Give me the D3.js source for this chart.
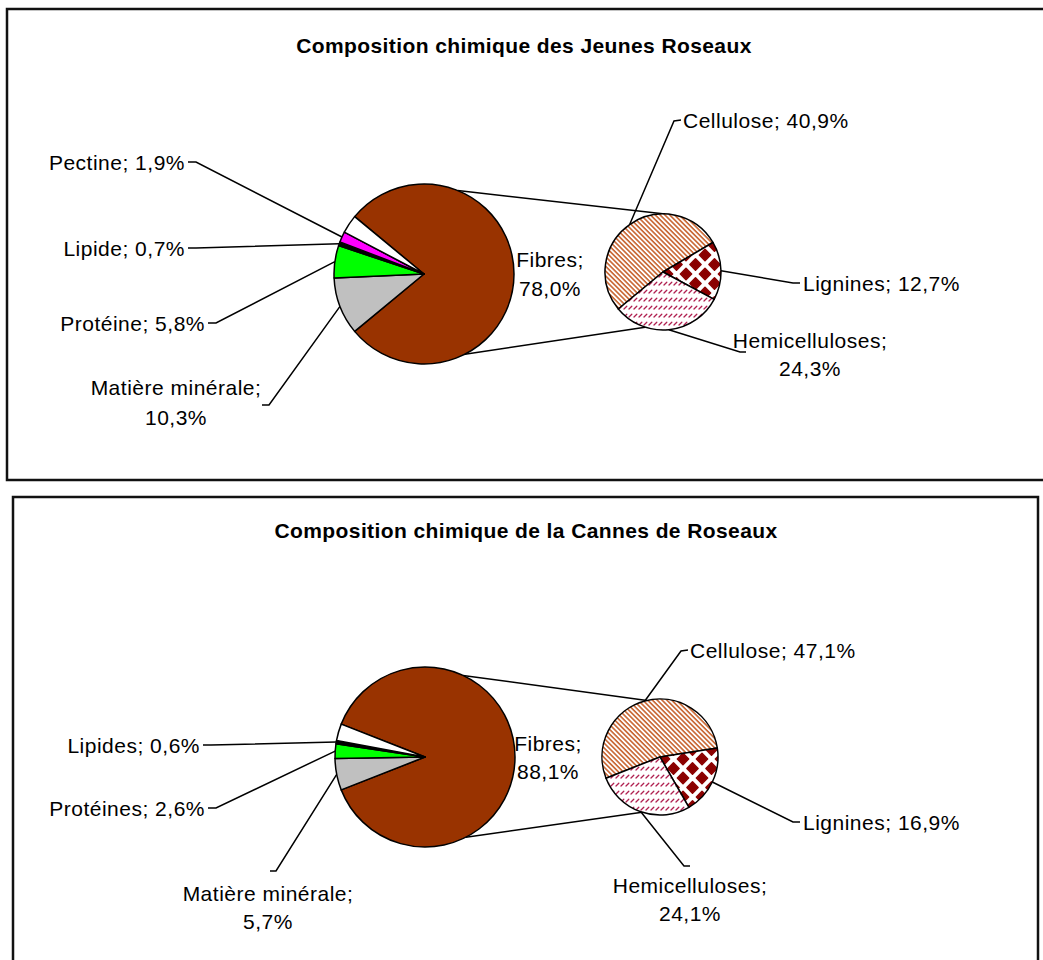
<!DOCTYPE html>
<html><head><meta charset="utf-8">
<script src="https://cdn.jsdelivr.net/npm/d3@7"></script>
<style>
html,body{margin:0;padding:0;background:#fff;}
svg{display:block;}
text{font-family:"Liberation Sans",Arial,sans-serif;fill:#000;}
</style></head><body>
<svg id="chart" width="1043" height="960"></svg>
<script>
// ---------- DATA ----------
const jeunesTitle = "Composition chimique des Jeunes Roseaux";
const jeunesCategories = ["Fibres", "Matière minérale", "Protéine", "Lipide", "Pectine", ""];
const jeunesValues = [78.0, 10.3, 5.8, 0.7, 1.9, 3.3];
const jeunesFibresCategories = ["Cellulose", "Lignines", "Hemicelluloses"];
const jeunesFibresValues = [40.9, 12.7, 24.3];

const cannesTitle = "Composition chimique de la Cannes de Roseaux";
const cannesCategories = ["Fibres", "Matière minérale", "Protéines", "Lipides", ""];
const cannesValues = [88.1, 5.7, 2.6, 0.6, 3.0];
const cannesFibresCategories = ["Cellulose", "Lignines", "Hemicelluloses"];
const cannesFibresValues = [47.1, 16.9, 24.1];

// ---------- STYLES ----------
const primaryColors = {
  "Fibres": "#993300", "Matière minérale": "#c0c0c0", "Protéine": "#00ff00", "Protéines": "#00ff00",
  "Lipide": "#000000", "Lipides": "#000000", "Pectine": "#ff00ff", "": "#ffffff"
};
const secondaryFills = { "Cellulose": "url(#patCell)", "Lignines": "url(#patLig)", "Hemicelluloses": "url(#patHemi)" };

const fmt = v => d3.format(".1f")(v).replace(".", ",") + "%";
const D = Math.PI / 180;

const svg = d3.select("#chart");
const defs = svg.append("defs");

// Cellulose: light downward diagonal stripes
const pc = defs.append("pattern").attr("id", "patCell").attr("patternUnits", "userSpaceOnUse")
  .attr("width", 3.4).attr("height", 10).attr("patternTransform", "rotate(-45)");
pc.append("rect").attr("width", 3.4).attr("height", 10).attr("fill", "#fff");
pc.append("line").attr("x1", 0.9).attr("y1", 0).attr("x2", 0.9).attr("y2", 10)
  .attr("stroke", "#c45a22").attr("stroke-width", 1.5);

// Lignines: dark red diamonds
const pl = defs.append("pattern").attr("id", "patLig").attr("patternUnits", "userSpaceOnUse")
  .attr("width", 19).attr("height", 19).attr("x", 4).attr("y", 2);
pl.append("rect").attr("width", 19).attr("height", 19).attr("fill", "#fff");
[[9.5, 9.5], [0, 0], [19, 0], [0, 19], [19, 19]].forEach(([cx, cy]) => {
  const h = 5.6;
  pl.append("path").attr("d", `M${cx - h},${cy}L${cx},${cy - h}L${cx + h},${cy}L${cx},${cy + h}Z`)
    .attr("fill", "#8b0000").attr("stroke", "#8b0000").attr("stroke-width", 1.5).attr("stroke-linejoin", "round");
});

// Hemicelluloses: dashed upward diagonal
const ph = defs.append("pattern").attr("id", "patHemi").attr("patternUnits", "userSpaceOnUse")
  .attr("width", 5).attr("height", 8);
ph.append("rect").attr("width", 5).attr("height", 8).attr("fill", "#fff");
ph.append("line").attr("x1", 1).attr("y1", 5).attr("x2", 3.8).attr("y2", 2.2)
  .attr("stroke", "#b02050").attr("stroke-width", 1.3).attr("stroke-linecap", "round");

// ---------- LAYOUT ----------
const layouts = [
  {
    title: jeunesTitle, cats: jeunesCategories, vals: jeunesValues,
    fcats: jeunesFibresCategories, fvals: jeunesFibresValues,
    frame: { x: 7, y: 9, w: 1070, h: 471 }, titlePos: [524, 45],
    c1: [424, 274], r1: 90, c2: [663, 272], r2: 58,
    conn: { p1: [22, 153], p2: [2, 198] },
    labels: {
      "Fibres": { x: 550, ys: [259, 288], anchor: "middle" },
      "Matière minérale": { x: 176, ys: [387, 417], anchor: "middle", lead: [[262, 405], [269, 405]] },
      "Protéine": { x: 205, ys: [323], anchor: "end", lead: [[208, 323], [216, 323]] },
      "Lipide": { x: 185, ys: [248], anchor: "end", lead: [[188, 248], [196, 248]] },
      "Pectine": { x: 185, ys: [162], anchor: "end", lead: [[188, 162], [196, 162]] },
      "Cellulose": { x: 683, ys: [120], anchor: "start", lead: [[681, 120], [674, 121]] },
      "Lignines": { x: 803, ys: [283], anchor: "start", lead: [[800, 283], [793, 283]] },
      "Hemicelluloses": { x: 810, ys: [340, 368], anchor: "middle", lead: [[746, 352], [740, 352]] }
    }
  },
  {
    title: cannesTitle, cats: cannesCategories, vals: cannesValues,
    fcats: cannesFibresCategories, fvals: cannesFibresValues,
    frame: { x: 13, y: 497, w: 1025, h: 500 }, titlePos: [526, 530],
    c1: [425, 757], r1: 90, c2: [660, 757], r2: 58,
    conn: { p1: [25, 153], p2: [-13, 198] },
    labels: {
      "Fibres": { x: 548, ys: [743, 771], anchor: "middle" },
      "Matière minérale": { x: 268, ys: [893, 921], anchor: "middle", lead: [[270, 871], [276, 871]] },
      "Protéines": { x: 205, ys: [808], anchor: "end", lead: [[208, 808], [216, 808]] },
      "Lipides": { x: 200, ys: [745], anchor: "end", lead: [[203, 745], [211, 745]] },
      "Cellulose": { x: 690, ys: [650], anchor: "start", lead: [[688, 650], [681, 651]] },
      "Lignines": { x: 803, ys: [822], anchor: "start", lead: [[800, 822], [793, 822]] },
      "Hemicelluloses": { x: 690, ys: [885, 913], anchor: "middle", lead: [[690, 866], [684, 866]] }
    }
  }
];

function pt(c, r, a) { return [c[0] + r * Math.sin(a), c[1] - r * Math.cos(a)]; }

function labelLines(cat, v, twoLine) {
  return twoLine ? [cat + ";", fmt(v)] : [cat + "; " + fmt(v)];
}

function drawText(g, L, lines) {
  lines.forEach((s, i) => {
    g.append("text").attr("x", L.x).attr("y", L.ys[i]).attr("dy", "0.36em")
      .attr("text-anchor", L.anchor).attr("font-size", 21).attr("letter-spacing", 0.5).text(s);
  });
}

const lineGen = d3.line();

layouts.forEach(spec => {
  const g = svg.append("g");
  g.append("rect").attr("x", spec.frame.x).attr("y", spec.frame.y).attr("width", spec.frame.w)
    .attr("height", spec.frame.h).attr("fill", "none").attr("stroke", "#111").attr("stroke-width", 2.5);
  g.append("text").attr("x", spec.titlePos[0]).attr("y", spec.titlePos[1]).attr("dy", "0.36em")
    .attr("text-anchor", "middle").attr("font-size", 21).attr("font-weight", "bold")
    .attr("letter-spacing", 0.4).text(spec.title);

  const total = d3.sum(spec.vals);
  const fibresFrac = spec.vals[0] / total;
  const pStart = Math.PI / 2 - fibresFrac * Math.PI;
  const pie1 = d3.pie().sort(null).value(d => d.v).startAngle(pStart).endAngle(pStart + 2 * Math.PI);
  const arcs1 = pie1(spec.cats.map((c, i) => ({ cat: c, v: spec.vals[i] })));
  const arc1 = d3.arc().innerRadius(0).outerRadius(spec.r1);

  const sStart = Math.PI / 2 + fibresFrac * Math.PI;
  const pie2 = d3.pie().sort(null).value(d => d.v).startAngle(sStart).endAngle(sStart + 2 * Math.PI);
  const arcs2 = pie2(spec.fcats.map((c, i) => ({ cat: c, v: spec.fvals[i] })));
  const arc2 = d3.arc().innerRadius(0).outerRadius(spec.r2);

  // connector lines
  [0, 1].forEach(k => {
    const a = pt(spec.c1, spec.r1, spec.conn.p1[k] * D);
    const b = pt(spec.c2, spec.r2, spec.conn.p2[k] * D);
    g.append("path").attr("d", lineGen([a, b])).attr("stroke", "#000").attr("stroke-width", 1.5).attr("fill", "none");
  });

  // leader lines
  function leader(d, c, r) {
    const L = spec.labels[d.data.cat];
    if (!L || !L.lead) return;
    const mid = (d.startAngle + d.endAngle) / 2;
    const p = pt(c, r, mid);
    g.append("path").attr("d", lineGen([L.lead[0], L.lead[1], p]))
      .attr("stroke", "#000").attr("stroke-width", 1.5).attr("fill", "none");
  }
  arcs1.forEach(d => leader(d, spec.c1, spec.r1));
  arcs2.forEach(d => leader(d, spec.c2, spec.r2));

  // primary pie
  const gp = g.append("g").attr("transform", `translate(${spec.c1[0]},${spec.c1[1]})`);
  gp.selectAll("path").data(arcs1).join("path").attr("d", arc1)
    .attr("fill", d => primaryColors[d.data.cat]).attr("stroke", "#000").attr("stroke-width", 1.5)
    .attr("stroke-linejoin", "round");

  // secondary pie
  const gs = g.append("g").attr("transform", `translate(${spec.c2[0]},${spec.c2[1]})`);
  gs.selectAll("path").data(arcs2).join("path").attr("d", arc2)
    .attr("fill", d => secondaryFills[d.data.cat]).attr("stroke", "#000").attr("stroke-width", 1.5)
    .attr("stroke-linejoin", "round");

  // labels
  arcs1.forEach(d => {
    const L = spec.labels[d.data.cat];
    if (!L) return;
    drawText(g, L, labelLines(d.data.cat, d.data.v, L.ys.length > 1));
  });
  arcs2.forEach(d => {
    const L = spec.labels[d.data.cat];
    if (!L) return;
    drawText(g, L, labelLines(d.data.cat, d.data.v, L.ys.length > 1));
  });
});
</script>
</body></html>
